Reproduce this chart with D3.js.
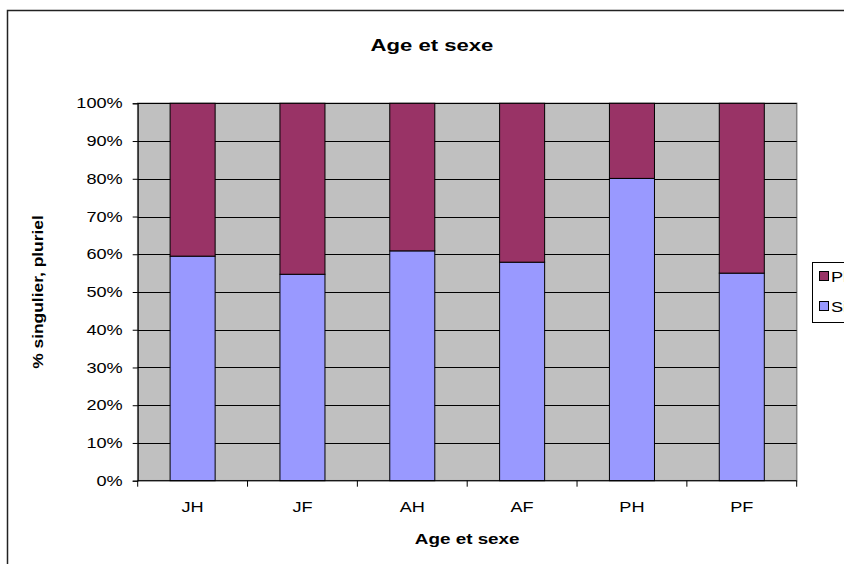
<!DOCTYPE html>
<html><head><meta charset="utf-8">
<script src="https://cdn.jsdelivr.net/npm/d3@7"></script>
<style>html,body{margin:0;padding:0;background:#fff;}svg{display:block;font-family:"Liberation Sans",Arial,sans-serif;}</style>
</head><body>
<svg id="c" width="844" height="564"></svg>
<script>
const categories = ["JH","JF","AH","AF","PH","PF"];
const singulier = [59.5, 54.7, 60.9, 57.9, 80.1, 55.0];
const pluriel = singulier.map(v => 100 - v);
const seriesNames = ["Pluriel","Singulier"];
const yTicks = [0,10,20,30,40,50,60,70,80,90,100];
const colors = {Singulier:"#9999FF", Pluriel:"#993366"};

const SX = 1.25; // horizontal stretch of the reference's text
const svg = d3.select("#c");
function stext(parent, x, y, str, opts) {
  const t = parent.append("text")
    .attr("transform", `translate(${x},${y}) ${opts.rotate ? "rotate(-90)" : ""} scale(${opts.sx||SX},1)`)
    .attr("text-anchor", opts.anchor || "middle")
    .attr("font-size", opts.size || 14)
    .attr("font-weight", opts.bold ? "bold" : "normal")
    .attr("fill", "#000")
    .text(str);
  return t;
}

// outer chart frame
svg.append("rect").attr("x",7.5).attr("y",10.5).attr("width",900).attr("height",600)
  .attr("fill","#fff").attr("stroke","#222").attr("stroke-width",1.5);

const L=137.7, R=796.7, T=103.3, B=480.7;
const x = d3.scaleBand().domain(categories).range([L,R]).paddingInner(0.59).paddingOuter(0.295);
const y = d3.scaleLinear().domain([0,100]).range([B,T]);

svg.append("rect").attr("x",L).attr("y",T).attr("width",R-L).attr("height",B-T)
  .attr("fill","#C0C0C0").attr("stroke","#808080").attr("stroke-width",1.5);

// gridlines
svg.append("g").selectAll("line").data(yTicks.filter(t=>t>0)).join("line")
  .attr("x1",L).attr("x2",R).attr("y1",d=>Math.round(y(d))+0.5).attr("y2",d=>Math.round(y(d))+0.5)
  .attr("stroke","#000").attr("stroke-width",1);

const rows = categories.map((c,i)=>({c, s:singulier[i], p:pluriel[i]}));
const g = svg.append("g");
rows.forEach(r=>{
  g.append("rect").attr("x",x(r.c)).attr("width",x.bandwidth())
    .attr("y",y(r.s)).attr("height",y(0)-y(r.s))
    .attr("fill",colors.Singulier).attr("stroke","#000").attr("stroke-width",1);
  g.append("rect").attr("x",x(r.c)).attr("width",x.bandwidth())
    .attr("y",y(100)).attr("height",y(r.s)-y(100))
    .attr("fill",colors.Pluriel).attr("stroke","#000").attr("stroke-width",1);
});

// y axis
const ya = svg.append("g").attr("transform",`translate(${L},0)`)
  .call(d3.axisLeft(y).tickValues(yTicks).tickFormat(d=>d+"%").tickSize(5).tickPadding(6));
ya.select(".domain").attr("stroke","#000");
ya.selectAll("line").attr("stroke","#000");
ya.selectAll(".tick text").attr("font-size",14.5).attr("fill","#000")
  .attr("font-family","Liberation Sans, Arial, sans-serif")
  .attr("x", -15/SX).attr("transform",`scale(${SX},1)`);

// x axis
const xa = svg.append("g").attr("transform",`translate(0,${B})`);
xa.append("line").attr("x1",L).attr("x2",R).attr("y1",0).attr("y2",0).attr("stroke","#000");
const bounds = d3.range(categories.length+1).map(i=>L+i*(R-L)/categories.length);
xa.selectAll("line.t").data(bounds).join("line").attr("class","t")
  .attr("x1",d=>d).attr("x2",d=>d).attr("y1",0).attr("y2",6).attr("stroke","#000");
categories.forEach(c=>stext(xa, x(c)+x.bandwidth()/2, 31, c, {size:14.5}));

// titles
stext(svg, 432, 51, "Age et sexe", {size:17, bold:true, sx:1.3});
stext(svg, (L+R)/2, 544, "Age et sexe", {size:14.5, bold:true, sx:1.3});
stext(svg, 43, (T+B)/2, "% singulier, pluriel", {size:14.5, bold:true, rotate:true, sx:1.2});

// legend
const lg = svg.append("g");
lg.append("rect").attr("x",812.5).attr("y",262.5).attr("width",90).attr("height",60)
  .attr("fill","#fff").attr("stroke","#000").attr("stroke-width",1);
seriesNames.forEach((n,i)=>{
  const yy = 271 + i*30;
  lg.append("rect").attr("x",819.5).attr("y",yy+0.5).attr("width",9).attr("height",9)
    .attr("fill",colors[n]).attr("stroke","#000").attr("stroke-width",1);
  stext(lg, 831, yy+10.5, n, {size:14.5, anchor:"start"});
});
</script>
</body></html>
